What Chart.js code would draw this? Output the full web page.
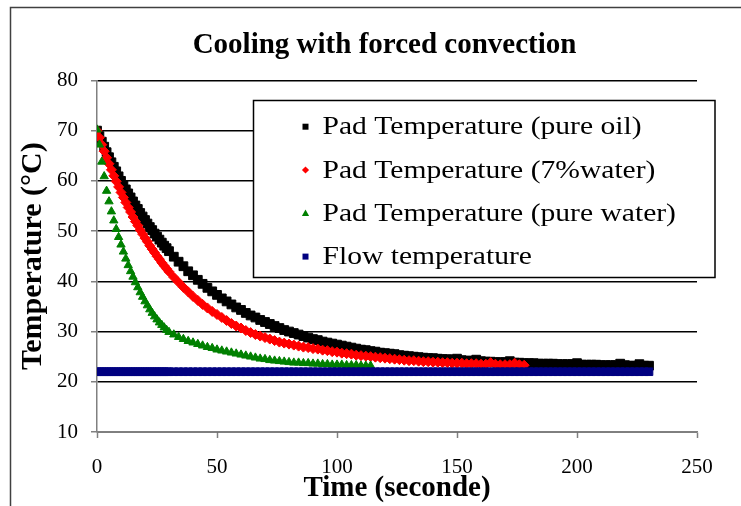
<!DOCTYPE html>
<html><head><meta charset="utf-8">
<script src="https://cdn.jsdelivr.net/npm/chart.js@4.4.1/dist/chart.umd.min.js"></script>
<style>html,body{margin:0;padding:0;background:#fff;}canvas{display:block;}</style>
</head><body>
<canvas id="c" width="741" height="506" style="width:741px;height:506px"></canvas>
<script>
const chartTitle = 'Cooling with forced convection';
const xTitle = 'Time (seconde)';
const yTitle = 'Temperature (°C)';
const seriesNames = ['Pad Temperature (pure oil)', 'Pad Temperature (7%water)', 'Pad Temperature (pure water)', 'Flow temperature'];
const seriesColors = ['#000000', '#ff0000', '#008000', '#000080'];
const seriesMarkers = ['rect', 'rectRot', 'triangle', 'rect'];

const secondsEarly = [0,1,2,3,4,5,6,7,8,9,10,11,12,13,14,15,16,17,18,19,20,21,22,23,24,25,26,27,28,29,30];
const secondsLate = [32,34,36,38,40,42,44,46,48,50,52,54,56,58,60,62,64,66,68,70,72,74,76,78,80,82,84,86,88,90,92,94,96,98,100,
  102,104,106,108,110,112,114,116,118,120,122,124,126,128,130,132,134,136,138,140,142,144,146,148,150,152,154,156,158,160,
  162,164,166,168,170,172,174,176,178,180,182,184,186,188,190,192,194,196,198,200,202,204,206,208,210,212,214,216,218,220,
  222,224,226,228,230];

const oilEarly = [70.0,68.9,67.8,66.8,65.7,64.7,63.7,62.8,61.9,60.9,60.0,59.2,58.3,57.5,56.7,55.9,55.1,54.4,53.6,52.9,52.2,51.5,50.8,50.2,49.5,48.9,48.3,47.7,47.1,46.6,46.0];
const oilLate = [44.9,43.9,43.0,42.0,41.2,40.3,39.5,38.7,38.0,37.3,36.6,36.0,35.4,34.8,34.3,33.7,33.2,32.8,32.3,31.9,31.5,31.1,30.7,30.3,30.0,29.7,29.4,29.1,28.8,28.5,28.3,28.0,27.8,27.6,27.4,
  27.2,27.0,26.8,26.6,26.4,26.3,26.1,26.0,25.8,25.7,25.6,25.5,25.3,25.2,25.1,25.0,24.9,24.8,24.7,24.7,24.6,24.5,24.5,24.4,24.6,24.3,24.2,24.2,24.4,24.1,
  24.0,24.0,23.9,23.9,23.9,24.1,23.8,23.8,23.7,23.7,23.7,23.6,23.6,23.6,23.6,23.5,23.5,23.5,23.5,23.7,23.4,23.4,23.4,23.4,23.3,23.3,23.3,23.3,23.6,23.3,
  23.2,23.2,23.5,23.2,23.2];

const mixEarly = [70.0,68.6,67.2,65.9,64.6,63.4,62.2,61.0,59.9,58.8,57.7,56.7,55.7,54.7,53.8,52.8,51.9,51.1,50.2,49.4,48.6,47.9,47.1,46.4,45.7,45.0,44.4,43.7,43.1,42.5,41.9];
const mixLate = [40.8,39.8,38.8,37.9,37.0,36.2,35.4,34.7,34.0,33.4,32.8,32.2,31.6,31.1,30.7,30.2,29.8,
  29.4,29.1,28.8,28.5,28.2,27.9,27.7,27.5,27.3,27.1,26.9,26.8,26.6,26.5,26.3,26.2,26.0,25.9,25.7,25.6,25.5,25.3,25.2,25.1,25.0,
  24.9,24.8,24.7,24.6,24.5,24.4,24.3,24.2,24.2,24.1,24.0,24.0,23.9,23.9,23.8,23.8,23.7,23.7,23.7,23.6,23.6,23.6,23.5,23.5,23.8,23.5,
  23.4,23.4,23.4,23.7,23.4,23.3];

const waterEarly = [70.2,67.2,63.8,60.9,58.0,55.9,53.9,52.1,50.4,48.8,47.3,45.9,44.5,43.2,42.0,40.9,39.8,38.8,37.8,36.9,36.0,35.2,34.4,33.7,33.0,32.4,31.8,31.3,30.8,30.3,29.9];
const waterLate = [29.4,28.9,28.5,28.1,27.8,27.5,27.2,26.9,26.7,26.4,26.2,26.0,25.8,25.6,25.4,25.2,25.0,24.8,24.6,24.5,24.3,
  24.2,24.1,24.0,23.9,23.8,23.8,23.7,23.7,23.6,23.6,23.5,23.5,23.4,23.4,23.4,23.3,23.3,23.3,23.2,23.2,23.2];

const flowEarly = [22,22,22,22,22,22,22,22,22,22,22,22,22,22,22,22,22,22,22,22,22,22,22,22,22,22,22,22,22,22,22];
const flowLate = [22,22,22,22,22,22,22,22,22,22,22,22,22,22,22,22,22,22,22,22,22,22,22,22,22,22,22,22,22,22,
  22,22,22,22,22,22,22,22,22,22,22,22,22,22,22,22,22,22,22,22,22,22,22,22,22,22,22,22,22,22,
  22,22,22,22,22,22,22,22,22,22,22,22,22,22,22,22,22,22,22,22,22,22,22,22,22,22,22,22,22,22,
  22,22,22,22,22,22,22,22,22,22];

const xMin = 0, xMax = 250, xStep = 50;
const yMin = 10, yMax = 80, yStep = 10;

const FONT = "'Liberation Serif','Times New Roman',serif";

function pts(early, late) {
  const a = early.map((v, i) => ({x: secondsEarly[i], y: v}));
  const b = late.map((v, i) => ({x: secondsLate[i], y: v}));
  return a.concat(b);
}

const seriesData = [pts(oilEarly, oilLate), pts(mixEarly, mixLate), pts(waterEarly, waterLate), pts(flowEarly, flowLate)];
const radii = [6.2, 5, 4.8, 5.4];

const datasets = seriesNames.map((name, i) => ({
  label: name,
  data: seriesData[i],
  showLine: false,
  pointStyle: seriesMarkers[i],
  pointRadius: radii[i],
  pointBackgroundColor: seriesColors[i],
  pointBorderColor: seriesColors[i],
  pointBorderWidth: 1,
  order: 4 - i
}));

const framePlugin = {
  id: 'frame',
  beforeDraw(chart) {
    const ctx = chart.ctx;
    ctx.save();
    ctx.fillStyle = '#fff';
    ctx.fillRect(0, 0, chart.width, chart.height);
    ctx.strokeStyle = '#404040';
    ctx.lineWidth = 1.5;
    ctx.beginPath();
    ctx.moveTo(10.5, chart.height + 2);
    ctx.lineTo(10.5, 7.5);
    ctx.lineTo(chart.width + 2, 7.5);
    ctx.stroke();
    ctx.restore();
  }
};

const legendPlugin = {
  id: 'boxLegend',
  afterDraw(chart) {
    const ctx = chart.ctx;
    const L = 253.5, T = 100.5, R = 715, B = 277.5;
    ctx.save();
    ctx.fillStyle = '#fff';
    ctx.fillRect(L, T, R - L, B - T);
    ctx.strokeStyle = '#000';
    ctx.lineWidth = 1.5;
    ctx.strokeRect(L, T, R - L, B - T);
    ctx.font = '26px ' + FONT;
    const k = 319 / ctx.measureText(seriesNames[0]).width;
    seriesNames.forEach((name, i) => {
      const cy = 126.7 + i * 43.3;
      const cx = 305.5;
      ctx.fillStyle = seriesColors[i];
      ctx.beginPath();
      const m = seriesMarkers[i];
      if (m === 'rect') {
        ctx.rect(cx - 3, cy - 3, 6, 6);
      } else if (m === 'rectRot') {
        ctx.moveTo(cx - 3.6, cy); ctx.lineTo(cx, cy - 3.6); ctx.lineTo(cx + 3.6, cy); ctx.lineTo(cx, cy + 3.6); ctx.closePath();
      } else {
        ctx.moveTo(cx, cy - 3.8); ctx.lineTo(cx + 3.6, cy + 2.6); ctx.lineTo(cx - 3.6, cy + 2.6); ctx.closePath();
      }
      ctx.fill();
      ctx.save();
      ctx.translate(322.5, cy + 7.6);
      ctx.scale(k, 1);
      ctx.fillStyle = '#000';
      ctx.textBaseline = 'alphabetic';
      ctx.textAlign = 'left';
      ctx.fillText(name, 0, 0);
      ctx.restore();
    });
    ctx.restore();
  }
};

new Chart(document.getElementById('c'), {
  type: 'scatter',
  data: { datasets },
  plugins: [framePlugin, legendPlugin],
  options: {
    responsive: false,
    animation: false,
    devicePixelRatio: 1,
    layout: { padding: { left: 28, right: 0, top: 0, bottom: 0 } },
    plugins: {
      legend: { display: false },
      tooltip: { enabled: false },
      title: {
        display: true, text: chartTitle, color: '#000',
        font: { family: FONT, size: 29, weight: 'bold' },
        padding: { top: 28, bottom: 17.6 }
      }
    },
    scales: {
      x: {
        type: 'linear', min: xMin, max: xMax,
        ticks: { stepSize: xStep, color: '#000', font: { family: FONT, size: 21 }, padding: 17, maxRotation: 0 },
        grid: { drawOnChartArea: false, drawTicks: true, tickLength: 6, tickColor: '#808080', tickWidth: 1.5 },
        border: { color: '#808080', width: 1.5 },
        title: { display: true, text: xTitle, color: '#000', font: { family: FONT, size: 29, weight: 'bold' }, padding: 0 },
        afterFit(s) { s.height = 74; }
      },
      y: {
        type: 'linear', min: yMin, max: yMax,
        ticks: { stepSize: yStep, color: '#000', font: { family: FONT, size: 21 }, padding: 13 },
        grid: { color: '#000', lineWidth: 1.5, drawTicks: true, tickLength: 6, tickColor: '#808080', tickWidth: 1.5 },
        border: { color: '#808080', width: 1.5 },
        title: { display: true, text: yTitle, color: '#000', font: { family: FONT, size: 30, weight: 'bold' }, padding: { top: -13, bottom: 0 } },
        afterFit(s) { s.width = 69; }
      },
      y2: {
        position: 'right', min: yMin, max: yMax,
        grid: { display: false, drawTicks: false },
        border: { display: false },
        ticks: { display: false },
        afterFit(s) { s.width = 44; }
      }
    }
  }
});
</script>
</body></html>
